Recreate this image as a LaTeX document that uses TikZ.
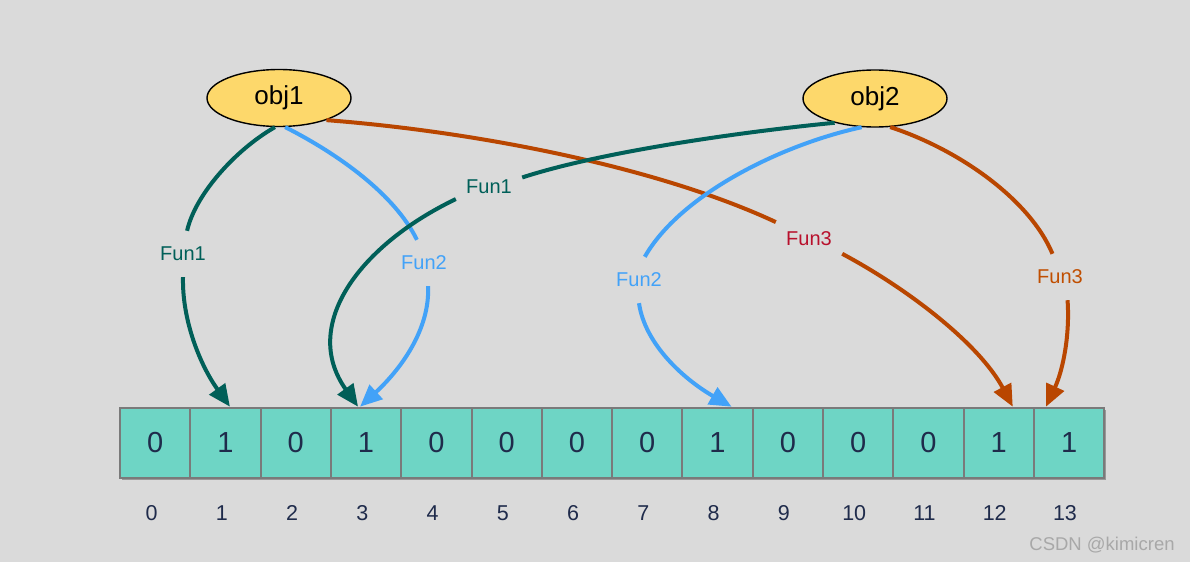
\documentclass[tikz,border=0pt]{standalone}
\usepackage{fontspec}
\setmainfont{Liberation Sans}
\usetikzlibrary{arrows.meta,shadows,calc,shapes.geometric}
\definecolor{bgc}{HTML}{DADADA}
\definecolor{tealc}{HTML}{005F58}
\definecolor{bluec}{HTML}{42A2F8}
\definecolor{orangec}{HTML}{B94600}
\definecolor{redlab}{HTML}{B8102C}
\definecolor{orangelab}{HTML}{C04E00}
\definecolor{objfill}{HTML}{FDD86B}
\definecolor{cellfill}{HTML}{6ED5C5}
\definecolor{cellline}{HTML}{7A7A7A}
\definecolor{numc}{HTML}{1F2B4B}
\definecolor{markc}{HTML}{A8A8A8}
\begin{document}
\begin{tikzpicture}[x=1pt,y=-1pt,
  cell/.style={draw=cellline, line width=2pt, fill=cellfill,
    minimum width=70.3pt, minimum height=70pt, inner sep=0pt,
    font=\fontsize{29}{31}\selectfont, text=numc,
    drop shadow={shadow xshift=1.5pt, shadow yshift=-2pt, opacity=0.3, fill=black}},
  idx/.style={font=\fontsize{21.5}{24}\selectfont, text=numc, inner sep=0pt},
  obj/.style={ellipse, draw=black, line width=1.4pt, fill=objfill,
    minimum width=144pt, minimum height=57pt, inner sep=0pt,
    font=\fontsize{26}{28}\selectfont},
  lab/.style={minimum width=66pt, minimum height=46pt, inner sep=0pt,
    font=\fontsize{20}{22}\selectfont},
  link/.style={line width=4pt},
  tip/.style={-{Triangle[length=22pt,width=19pt]}}
]
\fill[bgc] (0,0) rectangle (1190,562);
\useasboundingbox (0,0) rectangle (1190,562);

% cells
\foreach \v [count=\i from 0] in {0,1,0,1,0,0,0,0,1,0,0,0,1,1}{
  \node[cell] (c\i) at ({120+70.3*(\i+0.5)},442.7) {\v};
}
\foreach \i in {0,...,13}{
  \node[idx] (i\i) at ({151.7+70.25*\i},513) {\i};
}

% objects
\node[obj] (obj1) at (279,98) {obj1};
\node[obj] (obj2) at (875,98.5) {obj2};

% labels
\node[lab, text=tealc]     (L1) at (183,254) {Fun1};
\node[lab, text=bluec]     (L2) at (424,263) {Fun2};
\node[lab, text=redlab]    (L3) at (809,239) {Fun3};
\node[lab, text=tealc]     (L4) at (489,187) {Fun1};
\node[lab, text=bluec]     (L5) at (639,280) {Fun2};
\node[lab, text=orangelab] (L6) at (1060,277) {Fun3};

% obj1 connectors
\draw[link, tealc] (obj1.262) .. controls (235,150) and (195,195) .. (L1.80);
\draw[link, tealc, tip] (L1.270) .. controls (182,320) and (200,365) .. ($(c1.north)+(4.5,0)$);

\draw[link, bluec] (obj1.282) .. controls (340,155) and (395,195) .. (L2.107);
\draw[link, bluec, tip] (L2.280) .. controls (430,330) and (400,370) .. ($(c3.north)+(-6,0)$);

\draw[link, orangec] (obj1.335) .. controls (480,132) and (660,168) .. (L3.153);
\draw[link, orangec, tip] (L3.336) .. controls (910,290) and (980,345) .. ($(c12.north)+(14,0)$);

% obj2 connectors
\draw[link, tealc] (obj2.211) .. controls (740,132) and (600,152) .. (L4.16);
\draw[link, tealc, tip] (L4.200) .. controls (360,245) and (300,325) .. ($(c3.north)+(-8,0)$);

\draw[link, bluec] (obj2.245) .. controls (780,145) and (680,195) .. (L5.76);
\draw[link, bluec, tip] (L5.270) .. controls (645,345) and (685,380) .. ($(c8.north)+(14,0)$);

\draw[link, orangec] (obj2.298) .. controls (960,150) and (1030,200) .. (L6.108);
\draw[link, orangec, tip] (L6.288) .. controls (1070,335) and (1063,370) .. ($(c13.north)+(-23,0)$);

% watermark
\node[text=markc, font=\fontsize{18.5}{20}\selectfont, inner sep=0pt] (wm) at (1102,545) {CSDN @kimicren};
\end{tikzpicture}
\end{document}
